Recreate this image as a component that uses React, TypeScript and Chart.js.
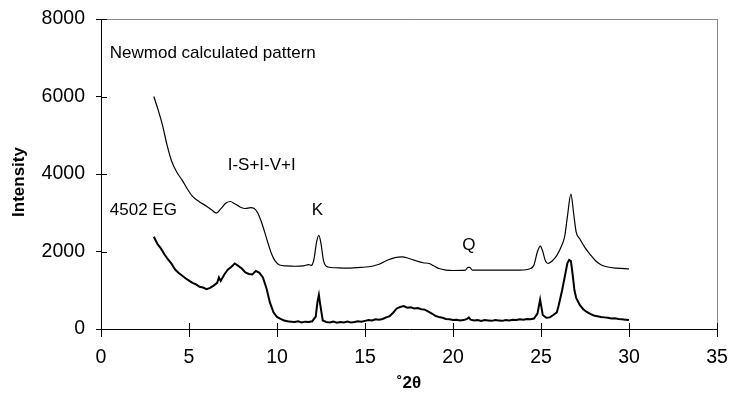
import React, { useEffect, useRef } from "react";
import { Chart, registerables } from "chart.js";

Chart.register(...registerables);

// Newmod calculated pattern (upper curve)
const calcX = [
  3.0, 3.25, 3.5, 3.75, 4.0, 4.3, 4.6, 4.9, 5.2, 5.6, 6.0, 6.3, 6.55, 6.8, 7.1, 7.35, 7.6, 7.9, 8.2, 8.5,
  8.7, 8.9, 9.1, 9.3, 9.5, 9.7, 9.9, 10.15, 10.5, 11.0, 11.5, 11.8, 11.95, 12.1, 12.25, 12.38, 12.5, 12.65,
  12.9, 13.3, 14.0, 14.8, 15.4, 15.8, 16.3, 16.7, 17.1, 17.5, 17.9, 18.3, 18.65, 18.9, 19.2, 19.6, 20.0,
  20.7, 20.85, 20.95, 21.1, 22.0, 23.0, 23.8, 24.4, 24.6, 24.8, 24.96, 25.1, 25.25, 25.4, 25.6, 25.9, 26.2,
  26.35, 26.5, 26.7, 26.85, 27.0, 27.2, 27.5, 27.8, 28.1, 28.4, 28.8, 29.3, 30.0,
];
const calcY = [
  6000, 5650, 5250, 4750, 4350, 4050, 3850, 3620, 3420, 3280, 3170, 3070, 2990, 3100, 3250, 3290, 3230, 3150, 3110, 3130,
  3110, 3000, 2780, 2500, 2200, 1930, 1750, 1650, 1630, 1620, 1630, 1660, 1640, 1800, 2250, 2420, 2200, 1750,
  1600, 1580, 1570, 1590, 1620, 1670, 1780, 1840, 1860, 1820, 1760, 1710, 1690, 1630, 1560, 1520, 1510,
  1520, 1590, 1590, 1520, 1520, 1520, 1520, 1560, 1650, 2000, 2140, 2000, 1760, 1690, 1740, 1900, 2180,
  2400, 2900, 3480, 3000, 2500, 2330, 2100, 1920, 1760, 1660, 1600, 1570, 1550,
];

// 4502 EG measured pattern (lower curve)
const egX = [
  3.0, 3.2, 3.4, 3.6, 3.8, 4.0, 4.2, 4.4, 4.6, 4.8, 5.0, 5.2, 5.4, 5.6, 5.8, 6.0, 6.2, 6.4, 6.6, 6.7,
  6.8, 7.0, 7.2, 7.4, 7.6, 7.8, 8.0, 8.2, 8.4, 8.6, 8.8, 9.0, 9.2, 9.4, 9.6, 9.8, 10.0, 10.2, 10.4, 10.6,
  10.8, 11.0, 11.2, 11.4, 11.6, 11.8, 12.0, 12.2, 12.3, 12.38, 12.45, 12.6, 12.8, 13.0, 13.2, 13.4, 13.6,
  13.8, 14.0, 14.2, 14.4, 14.6, 14.8, 15.0, 15.2, 15.4, 15.6, 15.8, 16.0, 16.2, 16.4, 16.6, 16.8, 17.0,
  17.2, 17.4, 17.6, 17.8, 18.0, 18.2, 18.4, 18.6, 18.8, 19.0, 19.2, 19.4, 19.6, 19.8, 20.0, 20.2, 20.4,
  20.6, 20.8, 20.9, 21.0, 21.2, 21.4, 21.6, 21.8, 22.0, 22.2, 22.4, 22.6, 22.8, 23.0, 23.2, 23.4, 23.6,
  23.8, 24.0, 24.2, 24.4, 24.6, 24.8, 24.95, 25.1, 25.3, 25.5, 25.7, 25.9, 26.0, 26.2, 26.35, 26.5, 26.6,
  26.7, 26.8, 26.9, 27.0, 27.2, 27.4, 27.6, 27.8, 28.0, 28.2, 28.4, 28.6, 28.8, 29.0, 29.2, 29.4, 29.6,
  29.8, 30.0,
];
const egY = [
  2380, 2200, 2080, 1930, 1800, 1690, 1540, 1450, 1380, 1310, 1250, 1190, 1150, 1090, 1070, 1030, 1060, 1120, 1190, 1330,
  1240, 1400, 1530, 1600, 1690, 1630, 1560, 1460, 1420, 1410, 1500, 1450, 1330, 1050, 680, 430, 310, 260, 220, 200,
  190, 180, 200, 170, 190, 180, 200, 320, 700, 880, 650, 220, 180, 170, 190, 160, 180,
  170, 190, 170, 180, 200, 190, 210, 230, 220, 250, 240, 260, 300, 330, 420, 530, 570,
  590, 550, 560, 530, 540, 510, 500, 450, 400, 340, 310, 290, 260, 250, 230, 240, 220,
  230, 260, 300, 240, 220, 230, 210, 230, 220, 210, 230, 220, 210, 230, 220, 240, 230,
  250, 240, 260, 250, 270, 400, 760, 360, 290, 300, 360, 430, 600, 1000, 1350, 1700, 1780,
  1750, 1400, 1000, 800, 620, 510, 440, 390, 350, 330, 310, 300, 290, 270, 280, 260, 250,
  240, 230,
];

// annotation labels (data coordinates)
const labelTexts = ["Newmod calculated pattern", "I-S+I-V+I", "4502 EG", "K", "Q"];
const labelX = [0.5, 7.2, 0.5, 12.3, 20.9];
const labelY = [7120, 4230, 3070, 3070, 2170];
const labelAlign: CanvasTextAlign[] = ["left", "left", "left", "center", "center"];
const yTitle = "Intensity";

const FONT = "'Liberation Sans', Arial, Helvetica, sans-serif";

const annotationPlugin = {
  id: "annotations",
  afterDraw(chart: any) {
    const { ctx, scales, chartArea } = chart;
    const xs = scales.x;
    const ys = scales.y;
    ctx.save();
    // inner halves of tick marks (ticks cross the axes)
    ctx.strokeStyle = "#000";
    ctx.lineWidth = 1;
    xs.ticks.forEach((t: any) => {
      const px = Math.round(xs.getPixelForValue(t.value)) + 0.5;
      ctx.beginPath();
      ctx.moveTo(px, chartArea.bottom);
      ctx.lineTo(px, chartArea.bottom - 6);
      ctx.stroke();
    });
    ys.ticks.forEach((t: any) => {
      const py = Math.round(ys.getPixelForValue(t.value)) + 0.5;
      ctx.beginPath();
      ctx.moveTo(chartArea.left, py);
      ctx.lineTo(chartArea.left + 6, py);
      ctx.stroke();
    });
    // text labels
    ctx.fillStyle = "#000";
    ctx.font = `17px ${FONT}`;
    ctx.textBaseline = "middle";
    labelTexts.forEach((txt, i) => {
      ctx.textAlign = labelAlign[i];
      ctx.fillText(txt, xs.getPixelForValue(labelX[i]), ys.getPixelForValue(labelY[i]));
    });
    // y axis title (slightly below axis centre, as in the reference)
    ctx.font = `bold 17px ${FONT}`;
    ctx.textAlign = "center";
    ctx.translate(19, (chartArea.top + chartArea.bottom) / 2 + 8);
    ctx.rotate(-Math.PI / 2);
    ctx.fillText(yTitle, 0, 0);
    ctx.restore();
  },
};

export default function App() {
  const canvasRef = useRef<HTMLCanvasElement | null>(null);

  useEffect(() => {
    if (!canvasRef.current) return;
    const chart = new Chart(canvasRef.current, {
      type: "line",
      data: {
        datasets: [
          {
            label: "Newmod calculated pattern",
            data: calcX.map((x, i) => ({ x, y: calcY[i] })),
            borderColor: "#000",
            borderWidth: 1.2,
            pointRadius: 0,
            cubicInterpolationMode: "monotone",
            fill: false,
          },
          {
            label: "4502 EG",
            data: egX.map((x, i) => ({ x, y: egY[i] })),
            borderColor: "#000",
            borderWidth: 2,
            pointRadius: 0,
            tension: 0,
            fill: false,
          },
        ],
      },
      options: {
        responsive: false,
        animation: false,
        devicePixelRatio: 1,
        layout: { padding: { left: 0, right: 15, top: 19, bottom: 0 } },
        plugins: {
          legend: { display: false },
          tooltip: { enabled: false },
        },
        scales: {
          x: {
            type: "linear",
            min: 0,
            max: 35,
            ticks: {
              stepSize: 5,
              color: "#000",
              font: { family: FONT, size: 19.5 },
              padding: 9,
              callback: (v: any) => String(v),
            },
            grid: {
              color: (c: any) => (c.tick && c.tick.value === 35 ? "#888" : "rgba(0,0,0,0)"),
              tickColor: "#000",
              tickLength: 8,
              lineWidth: 1,
            },
            border: { color: "#000", width: 1 },
            title: {
              display: true,
              text: "˚2θ",
              color: "#000",
              font: { family: FONT, size: 17, weight: "bold" },
              padding: { top: 0, bottom: 3 },
            },
            afterFit: (s: any) => {
              s.height = 68;
              s.paddingLeft = 0;
              s.paddingRight = 0;
            },
          },
          y: {
            type: "linear",
            min: 0,
            max: 8000,
            ticks: {
              stepSize: 2000,
              color: "#000",
              font: { family: FONT, size: 19.5 },
              padding: 11,
              callback: (v: any) => String(v),
            },
            grid: {
              color: (c: any) => (c.tick && c.tick.value === 8000 ? "#888" : "rgba(0,0,0,0)"),
              tickColor: "#000",
              tickLength: 5,
              lineWidth: 1,
            },
            border: { color: "#000", width: 1 },
            title: { display: false },
            afterFit: (s: any) => {
              s.width = 101;
              s.paddingTop = 0;
              s.paddingBottom = 0;
            },
          },
        },
      },
      plugins: [annotationPlugin],
    });
    return () => chart.destroy();
  }, []);

  return (
    <div style={{ position: "fixed", left: 0, top: 0, width: 732, height: 397, background: "#fff" }}>
      <canvas ref={canvasRef} width={732} height={397} style={{ display: "block" }} />
    </div>
  );
}
